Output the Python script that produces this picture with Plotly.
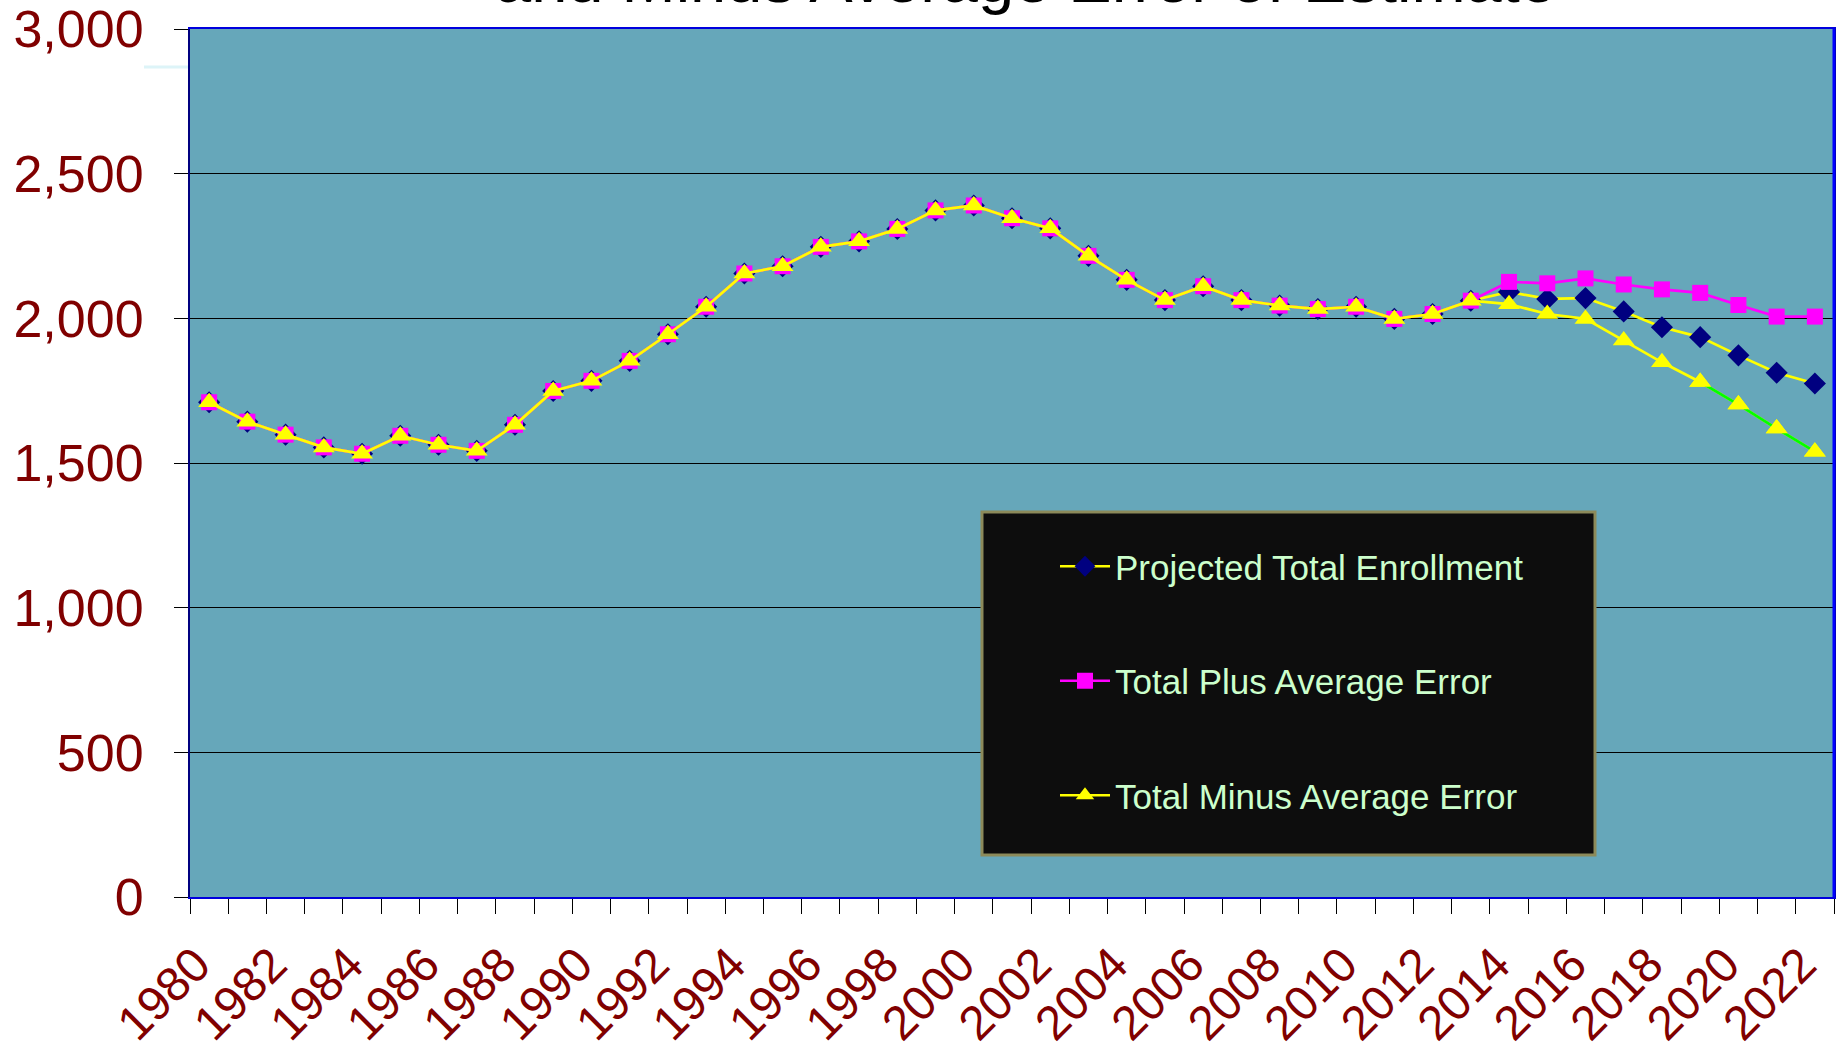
import plotly.graph_objects as go

years = ["1980", "1981", "1982", "1983", "1984", "1985", "1986", "1987", "1988", "1989",
         "1990", "1991", "1992", "1993", "1994", "1995", "1996", "1997", "1998", "1999",
         "2000", "2001", "2002", "2003", "2004", "2005", "2006", "2007", "2008", "2009",
         "2010", "2011", "2012", "2013", "2014", "2015", "2016", "2017", "2018", "2019",
         "2020", "2021", "2022"]

projected = [1710, 1643, 1598, 1554, 1532, 1594, 1563, 1542, 1632, 1749,
             1784, 1853, 1945, 2040, 2155, 2180, 2247, 2266, 2309, 2373,
             2390, 2346, 2311, 2216, 2133, 2063, 2111, 2063, 2044, 2032,
             2040, 1998, 2015, 2061, 2091, 2067, 2070, 2024, 1969, 1935,
             1872, 1812, 1775]

plus_err = [1710, 1643, 1598, 1554, 1532, 1594, 1563, 1542, 1632, 1749,
            1784, 1853, 1945, 2040, 2155, 2180, 2247, 2266, 2309, 2373,
            2390, 2346, 2311, 2216, 2133, 2063, 2111, 2063, 2044, 2032,
            2040, 1998, 2015, 2061, 2126, 2121, 2138, 2117, 2100, 2088,
            2046, 2006, 2006]

minus_err = [1710, 1643, 1598, 1554, 1532, 1594, 1563, 1542, 1632, 1749,
             1784, 1853, 1945, 2040, 2155, 2180, 2247, 2266, 2309, 2373,
             2390, 2346, 2311, 2216, 2133, 2063, 2111, 2063, 2044, 2032,
             2040, 1998, 2015, 2061, 2049, 2015, 1998, 1923, 1848, 1780,
             1702, 1619, 1539]

tick_labels = [y if int(y) % 2 == 0 else "" for y in years]

title_text = "and Minus Average Error of Estimate"
legend_names = ["Projected Total Enrollment", "Total Plus Average Error", "Total Minus Average Error"]

FONT = "Liberation Sans, Arial, sans-serif"
W, H = 1837, 1050
L, R, T, B = 190, 3, 29, 153
PW = W - L - R
PH = H - T - B


def px_x(p):
    return (p - L) / PW


def px_y(p):
    return (H - B - p) / PH


green_start = years.index("2019")

fig = go.Figure()
fig.add_trace(go.Scatter(
    x=years, y=projected, name=legend_names[0], mode="lines+markers",
    line=dict(color="#FFFF00", width=2.7),
    marker=dict(symbol="diamond", color="#000080", size=17),
    legendgroup="a"))
fig.add_trace(go.Scatter(
    x=years, y=plus_err, name=legend_names[1], mode="lines+markers",
    line=dict(color="#FF00FF", width=2.7),
    marker=dict(symbol="square", color="#FF00FF", size=16),
    legendgroup="b"))
fig.add_trace(go.Scatter(
    x=years, y=minus_err, name=legend_names[2], mode="lines+markers",
    line=dict(color="#FFFF00", width=2.7),
    marker=dict(symbol="triangle-up", color="#FFFF00", size=19),
    legendgroup="c"))
fig.add_trace(go.Scatter(
    x=years[green_start:], y=minus_err[green_start:], mode="lines",
    line=dict(color="#00FF00", width=2.7), showlegend=False,
    legendgroup="c", hoverinfo="skip"))
fig.add_trace(go.Scatter(
    x=years[green_start:], y=minus_err[green_start:], mode="markers",
    marker=dict(symbol="triangle-up", color="#FFFF00", size=19),
    showlegend=False, legendgroup="c", hoverinfo="skip"))

fig.update_layout(
    width=W, height=H,
    margin=dict(l=L, r=R, t=T, b=B, pad=0, autoexpand=False),
    paper_bgcolor="white",
    plot_bgcolor="#66A7BA",
    font=dict(family=FONT),
    showlegend=True,
    legend=dict(
        x=px_x(1055), y=px_y(537), xanchor="left", yanchor="top",
        bgcolor="rgba(0,0,0,0)", borderwidth=0,
        font=dict(size=35, color="#CCFFCC", family=FONT),
        traceorder="grouped", tracegroupgap=66, itemwidth=50,
    ),
    xaxis=dict(
        type="category", range=[-0.5, len(years) - 0.5],
        tickmode="array", tickvals=years, ticktext=tick_labels,
        tickangle=-45, tickfont=dict(size=48, color="#800000", family=FONT),
        ticks="outside", ticklen=15, tickcolor="black", tickwidth=1,
        tickson="boundaries", ticklabelstandoff=18, ticklabelshift=-13,
        automargin=False,
        showgrid=False, zeroline=False,
        showline=True, linecolor="#0000DD", linewidth=2, mirror=True,
    ),
    yaxis=dict(
        range=[0, 3000], dtick=500, tickformat=",",
        tickfont=dict(size=52, color="#800000", family=FONT),
        ticks="outside", ticklen=14, tickcolor="black", tickwidth=1,
        ticklabelstandoff=20, automargin=False,
        showgrid=True, gridcolor="black", gridwidth=1, zeroline=False,
        showline=True, linecolor="#000080", linewidth=2, mirror=True,
    ),
    shapes=[
        dict(type="rect", xref="paper", yref="paper",
             x0=px_x(982), x1=px_x(1595), y0=px_y(855), y1=px_y(512),
             fillcolor="#0D0D0D", line=dict(color="#8C8A5A", width=3), layer="above"),
        dict(type="line", xref="paper", yref="paper",
             x0=1, x1=1, y0=0, y1=1, line=dict(color="#0000FF", width=3)),
        dict(type="line", xref="paper", yref="paper",
             x0=px_x(144), x1=px_x(188), y0=px_y(67), y1=px_y(67),
             line=dict(color="#DDF4F8", width=3)),
    ],
    annotations=[
        dict(text=title_text, xref="paper", yref="paper",
             x=px_x(1025), y=px_y(18.5), xanchor="center", yanchor="bottom",
             showarrow=False, font=dict(size=65, color="black", family=FONT)),
    ],
)

fig.write_html("out.html", config={"displayModeBar": False},
               post_script="document.body.style.margin='0';document.body.style.overflow='hidden';")
